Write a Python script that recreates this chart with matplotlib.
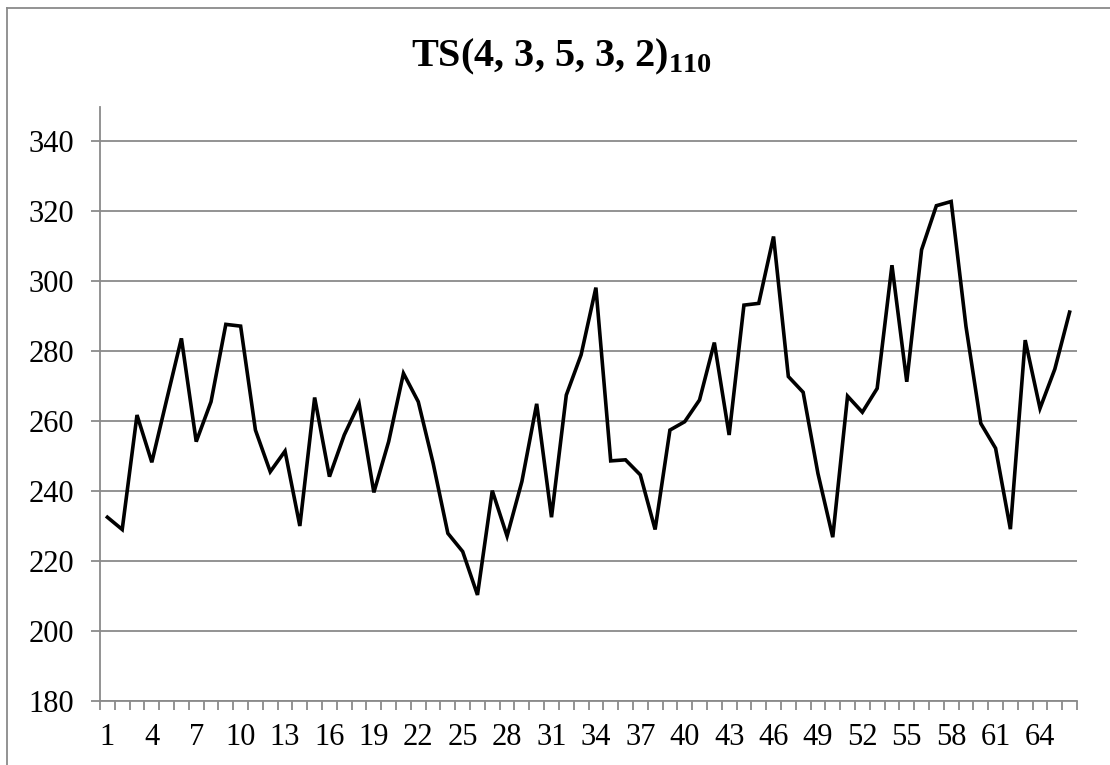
import matplotlib
matplotlib.use("Agg")
import matplotlib.pyplot as plt
from matplotlib.lines import Line2D
from matplotlib.ticker import FixedLocator

plt.rcParams['font.family'] = ['Liberation Serif', 'DejaVu Serif']
plt.rcParams['mathtext.fontset'] = 'custom'
plt.rcParams['mathtext.rm'] = 'Liberation Serif'
plt.rcParams['mathtext.bf'] = 'Liberation Serif:bold'

title_main = "TS(4, 3, 5, 3, 2)"
title_sub = "110"

values = [232.5, 229.0, 261.7, 248.2, 266.0, 283.6, 254.1, 265.5, 287.6, 287.1,
          257.4, 245.5, 251.4, 230.0, 266.7, 244.1, 256.0, 265.0, 239.6, 254.1,
          273.6, 265.5, 248.0, 227.9, 222.7, 210.3, 240.1, 227.1, 242.7, 264.9,
          232.5, 267.4, 278.9, 298.1, 248.6, 248.9, 244.6, 229.0, 257.4, 259.8,
          266.0, 282.4, 256.0, 293.1, 293.6, 312.7, 272.7, 268.2, 245.0, 226.8,
          267.1, 262.5, 269.3, 304.5, 271.2, 308.9, 321.5, 322.7, 287.0, 259.3,
          252.2, 229.1, 283.1, 263.6, 274.8, 291.1]
x = list(range(1, len(values) + 1))
x_tick_labels = [str(v) for v in range(1, 65, 3)]
y_ticks = [180, 200, 220, 240, 260, 280, 300, 320, 340]

W, H = 1110, 765
fig = plt.figure(figsize=(W / 100, H / 100), dpi=100)
ax = fig.add_axes([100 / W, 1 - 701 / H, 977 / W, 594 / H])

gray = '#8a8a8a'
ax.plot(x, values, color='black', linewidth=2.6, solid_joinstyle='miter', zorder=3)

ax.set_xlim(0.5, len(values) + 0.5)
ax.set_ylim(180, 349.7)
ax.set_yticks(y_ticks)
ax.set_yticklabels([str(v) for v in y_ticks])
ax.set_xticks([int(s) for s in x_tick_labels])
ax.set_xticklabels(x_tick_labels)
ax.xaxis.set_minor_locator(FixedLocator([i + 0.5 for i in range(0, len(values) + 1)]))

ax.grid(axis='y', color=gray, linewidth=1.3)
ax.set_axisbelow(True)
for s in ['top', 'right']:
    ax.spines[s].set_visible(False)
for s in ['left', 'bottom']:
    ax.spines[s].set_color(gray)
    ax.spines[s].set_linewidth(1.3)

ax.tick_params(axis='x', which='major', length=0, pad=16, labelsize=22)
ax.tick_params(axis='x', which='minor', length=6.5, width=1.3, color=gray, direction='out')
ax.tick_params(axis='y', which='major', length=6.5, width=1.3, color=gray, pad=12, labelsize=22)

fig.text(561 / W, 1 - 66 / H, title_main + r'$_{\mathbf{' + title_sub + r'}}$',
         ha='center', va='baseline', fontsize=29, fontweight='bold')

# outer chart border (top and left visible)
fig.add_artist(Line2D([7 / W, 1.0], [1 - 8 / H, 1 - 8 / H], transform=fig.transFigure,
                      color=gray, linewidth=1.3))
fig.add_artist(Line2D([7 / W, 7 / W], [0.0, 1 - 8 / H], transform=fig.transFigure,
                      color=gray, linewidth=1.3))

fig.savefig('out.png', dpi=100)
